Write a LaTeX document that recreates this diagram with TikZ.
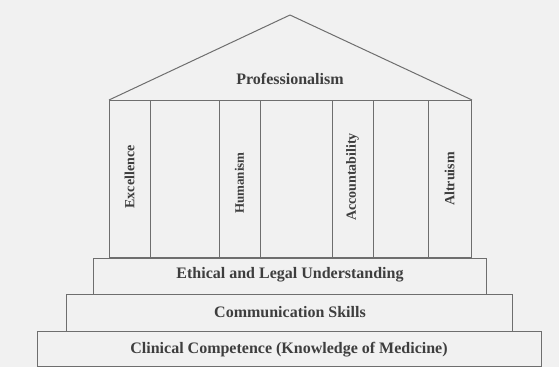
\documentclass[tikz,border=0pt]{standalone}
\usepackage{fontspec}
\setmainfont{Liberation Serif}
\definecolor{bgc}{HTML}{F1F1F1}
\definecolor{linec}{HTML}{6E6E6E}
\definecolor{textc}{HTML}{3E3E3E}
\begin{document}
\begin{tikzpicture}[x=1pt,y=-1pt,
  frame/.style={draw=linec,line width=1pt},
  lbl/.style={text=textc,font=\fontsize{16}{18}\selectfont\bfseries,inner sep=0pt},
  vlbl/.style={text=textc,font=\fontsize{14}{16}\selectfont\bfseries,inner sep=0pt,rotate=90}]
\fill[bgc] (0,0) rectangle (559,367);
\useasboundingbox (0,0) rectangle (559,367);
% steps
\node[frame,minimum width=504pt,minimum height=35pt,inner sep=0pt] (clin) at (289,348.5) {};
\node[frame,minimum width=446pt,minimum height=37pt,inner sep=0pt] (comm) at (289,312.5) {};
\node[frame,minimum width=393pt,minimum height=36pt,inner sep=0pt] (eth) at (289.5,276) {};
% columns block
\node[frame,minimum width=362pt,minimum height=157pt,inner sep=0pt,anchor=south west] (cols) at (109,258) {};
% roof
\coordinate (apex) at (290,15);
\draw[frame,line join=round] (cols.north west) -- (apex) -- (cols.north east);
% column dividers
\foreach \x/\n in {150/a,219/b,260/c,332/d,373/e,428/f}{
  \coordinate (t\n) at (\x,101);
  \coordinate (b\n) at (\x,258);
  \draw[frame] (t\n) -- (b\n);
}
% texts
\node[lbl] (prof) at (290,79) {Professionalism};
\node[lbl] (ethl) at (290,275) {Ethical and Legal Understanding};
\node[lbl] (comml) at (290,312) {Communication Skills};
\node[lbl] (clinl) at (289,350) {Clinical Competence (Knowledge of Medicine)};
\node[vlbl] (exc) at (129.5,177) {Excellence};
\node[vlbl,font=\fontsize{13}{15}\selectfont\bfseries] (hum) at (239.5,183) {Humanism};
\node[vlbl] (acc) at (352.5,177) {Accountability};
\node[vlbl] (alt) at (449.5,179) {Altruism};
\end{tikzpicture}
\end{document}
